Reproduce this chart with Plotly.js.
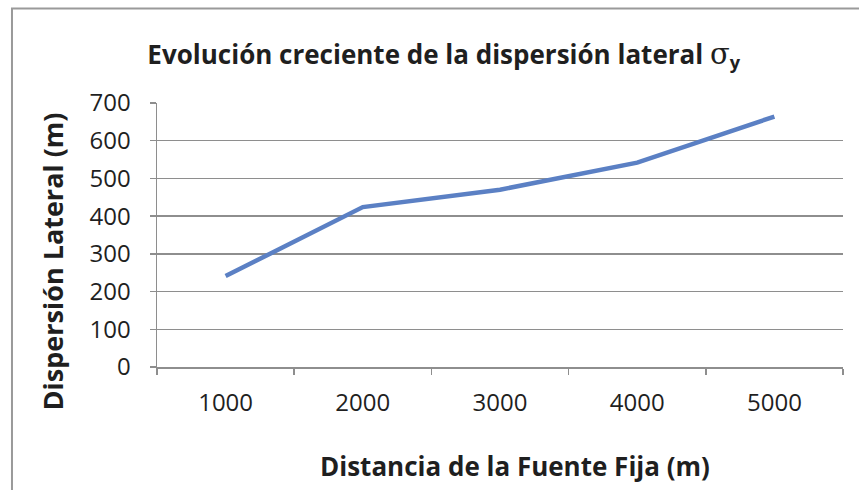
<!DOCTYPE html>
<html>
<head>
<meta charset="utf-8">
<script src="https://cdn.plot.ly/plotly-3.0.1.min.js"></script>
<style>
  html, body { margin: 0; padding: 0; background: #ffffff; }
  #chart { width: 859px; height: 490px; }
</style>
</head>
<body>
<div id="chart"></div>
<script>
// Distance from the fixed source (m) and lateral dispersion sigma_y (m)
const distancias = ['1000', '2000', '3000', '4000', '5000'];
const dispersion = [241, 424, 470, 542, 664];
const yTicks = [0, 100, 200, 300, 400, 500, 600, 700];
const tituloX = 'Distancia de la Fuente Fija (m)';
const tituloY = 'Dispersión Lateral (m)';

const gridGray = '#8e8e8e';
const textColor = '#1f1f1f';
const fontFam = '"Open Sans", "Noto Sans", sans-serif';

const trace = {
  type: 'scatter',
  mode: 'lines',
  x: distancias,
  y: dispersion,
  line: { color: '#5b80c4', width: 4.5 },
  hoverinfo: 'x+y'
};

const layout = {
  width: 859,
  height: 490,
  margin: { l: 157, r: 16, t: 103, b: 123 },
  paper_bgcolor: '#ffffff',
  plot_bgcolor: '#ffffff',
  showlegend: false,
  font: { family: fontFam, color: textColor },
  title: {
    text: '<b>Evolución creciente de la dispersión lateral </b><span style="font-family:\'DejaVu Serif\',serif;font-size:29px">σ</span><sub><b>y</b></sub>',
    font: { family: fontFam, size: 26, color: textColor },
    x: 0.418, xref: 'paper', xanchor: 'center',
    y: 0.888, yref: 'container', yanchor: 'middle'
  },
  xaxis: {
    type: 'category',
    range: [-0.5, 4.5],
    showgrid: false,
    showline: true,
    linecolor: gridGray,
    linewidth: 1.5,
    ticks: 'outside',
    tickson: 'boundaries',
    ticklen: 6,
    tickcolor: gridGray,
    tickwidth: 1.5,
    ticklabelstandoff: 14,
    tickfont: { family: fontFam, size: 24, color: textColor },
    zeroline: false
  },
  yaxis: {
    range: [0, 700],
    tickvals: yTicks,
    showgrid: true,
    gridcolor: gridGray,
    gridwidth: 1.5,
    showline: true,
    linecolor: gridGray,
    linewidth: 1.5,
    ticks: 'outside',
    ticklen: 6,
    tickcolor: gridGray,
    tickwidth: 1.5,
    ticklabelstandoff: 14,
    tickfont: { family: fontFam, size: 24, color: textColor },
    zeroline: false
  },
  annotations: [
    {
      text: '<b>' + tituloX + '</b>',
      xref: 'paper', yref: 'paper',
      x: 0.522, y: -0.375,
      xanchor: 'center', yanchor: 'middle',
      showarrow: false,
      font: { family: fontFam, size: 26, color: textColor }
    },
    {
      text: '<b>' + tituloY + '</b>',
      xref: 'paper', yref: 'paper',
      x: -0.153, y: 0.40,
      xanchor: 'center', yanchor: 'middle',
      textangle: -90,
      showarrow: false,
      font: { family: fontFam, size: 27, color: textColor }
    }
  ],
  shapes: [{
    type: 'rect',
    xref: 'paper', yref: 'paper',
    x0: -0.2114, x1: 1.04,
    y0: -0.51, y1: 1.358,
    line: { color: '#9a9a9a', width: 2 },
    fillcolor: 'rgba(0,0,0,0)',
    layer: 'below'
  }]
};

Plotly.newPlot('chart', [trace], layout, { displayModeBar: false, staticPlot: true });
</script>
</body>
</html>
